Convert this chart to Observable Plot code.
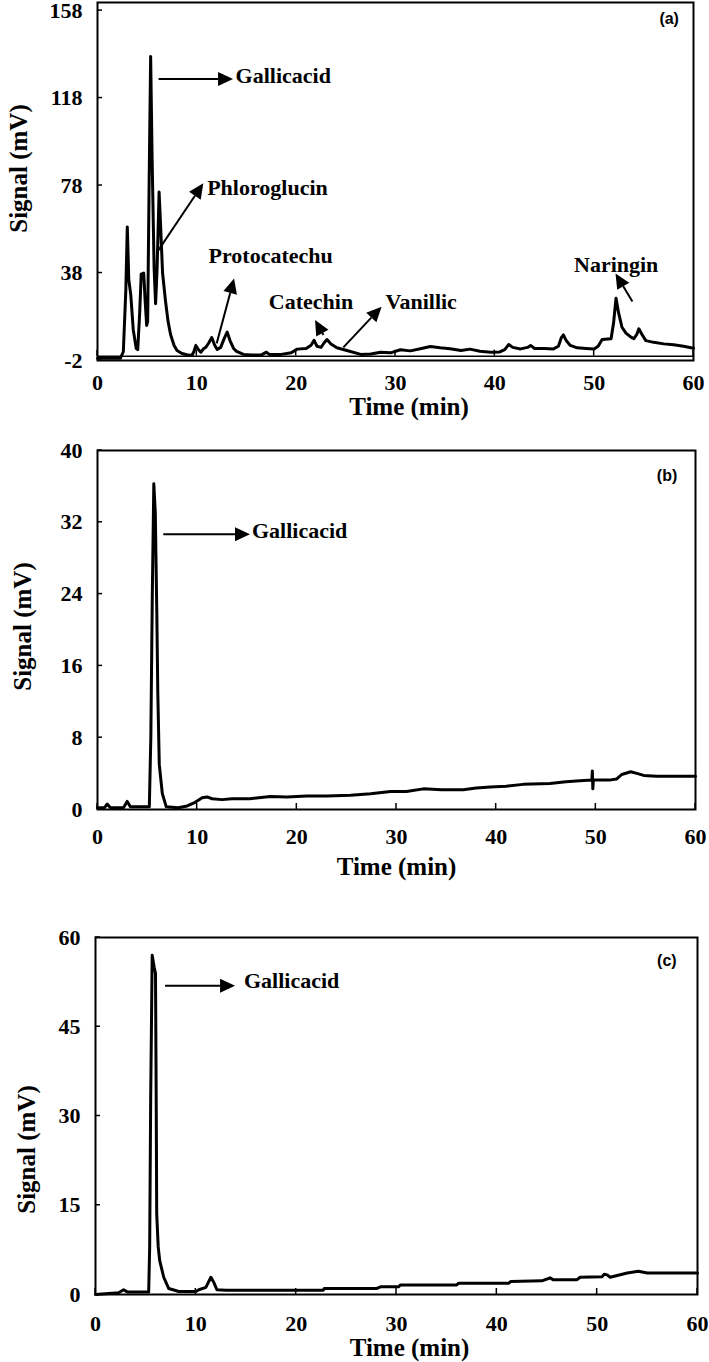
<!DOCTYPE html>
<html><head><meta charset="utf-8">
<script src="https://cdn.jsdelivr.net/npm/d3@7"></script>
<script src="https://cdn.jsdelivr.net/npm/@observablehq/plot@0.6"></script>
<style>
body{margin:0;background:#fff;}
#chart{width:709px;}
#chart svg{display:block;}
#chart svg text{font-family:"Liberation Serif","Times New Roman",serif !important;font-weight:bold !important;fill:#000;}
#chart svg text.tag{font-family:"Liberation Sans",Arial,sans-serif !important;}
</style></head><body><div id="chart"></div>
<script>
// ---------- Panel (a) ----------
const timeA = [0,2.3,2.6,2.85,3.0,3.15,3.35,3.6,3.9,4.05,4.25,4.4,4.65,4.8,4.95,5.05,5.2,5.35,5.5,5.7,5.85,6.0,6.2,6.35,6.55,6.85,7.1,7.35,7.7,8.0,8.5,9.0,9.5,9.7,9.9,10.15,10.4,10.7,10.9,11.2,11.5,11.8,12.05,12.4,12.75,13.05,13.35,13.7,14.0,14.7,15.5,16.5,17.0,17.3,18.5,19.5,20.1,21.0,21.5,21.8,22.1,22.5,22.8,23.1,23.5,24.1,25.1,26.5,27.5,28.5,29.5,30.5,31.5,32.5,33.5,34.5,35.5,36.6,37.5,38.5,39.6,40.5,41.0,41.4,41.8,42.6,43.3,43.6,44.0,45.0,45.9,46.4,46.7,46.9,47.2,47.6,48.3,49.2,50.0,50.4,50.8,51.7,51.95,52.2,52.45,52.8,53.2,53.7,54.0,54.3,54.5,54.8,55.2,56.0,57.0,58.0,59.0,60.0];
const signalA = [-1,-1,2,30,59,35,28,12,3.5,3,20,37.5,38,25,14,16,80,137,90,40,24,40,75,60,38,25,16,10,5,2.6,1.2,0.6,0.3,2,4.9,3,1.8,3.5,4,6,8.5,5,3,4,8,11,7,3.5,2.2,0.8,0.5,0.6,1.8,0.8,0.8,1.5,3.2,3.5,5,7.2,4.5,4,6,7.6,5.5,3.8,2.6,0.8,1.0,1.8,1.5,2.9,2.4,3.4,4.4,3.8,3.4,2.6,3.2,2.2,1.8,1.9,3,5.3,4,3.3,4,4.9,3.5,3.5,3.3,4.5,8.5,9.7,7,4.9,3.8,3.5,3.3,4.5,7.6,7.9,15,26.5,20,13.2,10.5,8.7,8,10,12.5,10,7.1,6.3,5.6,5.2,4.5,3.6];
const yTicksA = [-2,38,78,118,158];
const labelNamesA = ["Gallicacid","Phloroglucin","Protocatechu","Catechin","Vanillic","Naringin"];
const labelTimeA = [13.9,11.04,11.18,17.25,29.0,47.97];
const labelSignalA = [128.3,76.9,46,24.7,24.7,41.7];
// arrows: [fromTime, fromSignal, toTime, toSignal]
const arrowsA = [[6.2,126.5,13.7,126.5],[6.0,47,10.7,78.8],[12.05,5.6,13.8,35.3],[22.8,9.4,21.95,16.3],[24.8,3.8,28.65,22.4],[53.9,24.7,52.2,37.6]];

// ---------- Panel (b) ----------
const timeB = [0,0.7,0.97,1.3,2.6,2.98,3.3,5.2,5.35,5.5,5.65,5.8,5.95,6.05,6.2,6.5,6.9,8.1,9.0,9.8,10.5,11.0,11.5,12.5,13.5,15.3,17.35,19.0,21.0,23.0,25.4,27.4,29.4,31.0,32.7,34.5,36.7,38.0,39.4,41.0,42.7,45.4,47.0,48.4,49.6,49.65,49.7,49.75,51.5,52.1,52.6,53.5,54.2,54.8,56.1,60];
const signalB = [0.2,0.2,0.6,0.2,0.2,0.9,0.3,0.3,8,24,36.3,33,22,13,5,1.8,0.3,0.2,0.4,0.8,1.3,1.4,1.2,1.1,1.2,1.2,1.45,1.4,1.5,1.5,1.6,1.75,2.0,2.0,2.3,2.2,2.2,2.4,2.5,2.6,2.8,2.9,3.1,3.2,3.3,4.3,2.3,3.3,3.3,3.4,3.9,4.2,4.0,3.8,3.7,3.7];
const yTicksB = [0,8,16,24,32,40];
const labelNamesB = ["Gallicacid"];
const labelTimeB = [15.5];
const labelSignalB = [31.0];
const arrowsB = [[6.65,30.6,15.35,30.6]];

// ---------- Panel (c) ----------
const timeC = [0,2.3,2.8,3.2,5.3,5.4,5.5,5.65,5.85,5.98,6.05,6.1,6.25,6.4,6.8,7.3,8.3,10.0,10.3,11.0,11.5,11.8,12.1,13,22.7,22.8,28.0,28.4,30.2,30.4,36.0,36.2,41.2,41.4,44.5,45.0,45.3,45.6,48.0,48.3,50.5,50.7,51.0,51.3,52,53.0,54.1,55.0,60];
const signalC = [0,0.3,0.8,0.4,0.4,8,33,57,55,54,33,13.6,8,5.7,2.9,1.0,0.5,0.5,0.8,1.2,2.9,2.0,0.8,0.7,0.7,1.0,1.0,1.3,1.3,1.6,1.6,1.9,1.9,2.2,2.3,2.6,2.8,2.5,2.5,2.9,3.0,3.4,3.3,2.9,3.2,3.6,3.9,3.6,3.6];
const yTicksC = [0,15,30,45,60];
const labelNamesC = ["Gallicacid"];
const labelTimeC = [14.8];
const labelSignalC = [52.7];
const arrowsC = [[6.98,51.8,13.96,51.8]];

const xTicks = [0,10,20,30,40,50,60];
const panelTags = ["(a)","(b)","(c)"];
const tagTime = [57.6,57.2,57.0];
const tagSignal = [154,37.2,56.1];
const xTitle = "Time (min)";
const yTitle = "Signal (mV)";

function inwardTicks(xt, yt, baseV) {
  return (index, scales, values, dims) => {
    const g = d3.create("svg:g").attr("stroke", "black").attr("stroke-width", 1.5);
    const x = scales.x, y = scales.y;
    for (const t of xt) {
      g.append("line").attr("x1", x(t)).attr("x2", x(t)).attr("y1", y(baseV)).attr("y2", y(baseV) - 6);
    }
    for (const v of yt) {
      g.append("line").attr("x1", dims.marginLeft).attr("x2", dims.marginLeft + 5).attr("y1", y(v)).attr("y2", y(v));
    }
    return g.node();
  };
}

function filledArrows(list) {
  return (index, scales) => {
    const g = d3.create("svg:g");
    const x = scales.x, y = scales.y;
    for (const [t1, v1, t2, v2] of list) {
      const X1 = x(t1), Y1 = y(v1), X2 = x(t2), Y2 = y(v2);
      const a = Math.atan2(Y2 - Y1, X2 - X1);
      const L = 15, W = 7;
      const bx = X2 - L * Math.cos(a), by = Y2 - L * Math.sin(a);
      g.append("line").attr("x1", X1).attr("y1", Y1).attr("x2", bx).attr("y2", by)
        .attr("stroke", "black").attr("stroke-width", 2);
      const px = -Math.sin(a) * W, py = Math.cos(a) * W;
      g.append("path").attr("d", `M${X2},${Y2}L${bx + px},${by + py}L${bx - px},${by - py}Z`).attr("fill", "black");
    }
    return g.node();
  };
}

function tagMark(tag, t, v) {
  return (index, scales) => {
    const txt = d3.create("svg:text")
      .attr("class", "tag")
      .attr("x", scales.x(t)).attr("y", scales.y(v))
      .attr("text-anchor", "middle").attr("dy", "0.35em")
      .attr("font-size", 16).text(tag);
    return txt.node();
  };
}

function panel(cfg) {
  const data = cfg.time.map((t, i) => ({t, v: cfg.signal[i]}));
  return Plot.plot({
    width: 709,
    height: cfg.height,
    marginTop: cfg.mt, marginBottom: cfg.mb, marginLeft: cfg.ml, marginRight: cfg.mr,
    style: {fontSize: "22px", color: "black", background: "white", overflow: "visible"},
    x: {domain: [0, 60]},
    y: {domain: cfg.yDomain},
    marks: [
      Plot.frame({stroke: "black", strokeWidth: 2}),
      cfg.zeroLine ? Plot.ruleY([0], {stroke: "black", strokeWidth: 1.5}) : null,
      Plot.axisX({ticks: xTicks, tickSize: 0, tickPadding: cfg.xPad, tickFormat: d => String(d), label: null, fontSize: 22}),
      Plot.axisY({ticks: cfg.yTicks, tickSize: 0, tickPadding: 15, tickFormat: d => String(d), label: null, fontSize: 22}),
      inwardTicks(xTicks, cfg.yTicks, cfg.zeroLine ? 0 : cfg.yDomain[0]),
      Plot.line(data, {x: "t", y: "v", stroke: "black", strokeWidth: 3, strokeLinejoin: "round"}),
      filledArrows(cfg.arrows),
      Plot.text(cfg.labels, {x: (d, i) => cfg.labelT[i], y: (d, i) => cfg.labelV[i], text: d => d, textAnchor: "start", lineAnchor: "middle", fontSize: 22}),
      tagMark(cfg.tag, cfg.tagT, cfg.tagV),
      Plot.text([yTitle], {frameAnchor: "left", rotate: -90, textAnchor: "middle", lineAnchor: "middle", dx: cfg.ytDx, dy: cfg.ytDy, text: d => d, fontSize: 25}),
      Plot.text([xTitle], {frameAnchor: "bottom", textAnchor: "middle", lineAnchor: "middle", dx: cfg.xtDx, dy: cfg.xtDy, text: d => d, fontSize: 25})
    ]
  });
}

const chart = document.getElementById("chart");
chart.append(panel({
  time: timeA, signal: signalA, height: 420, mt: 2, mb: 60, ml: 97, mr: 16,
  yDomain: [-2, 161.7], yTicks: yTicksA, zeroLine: true, xPad: 14,
  arrows: arrowsA, labels: labelNamesA, labelT: labelTimeA, labelV: labelSignalA,
  tag: panelTags[0], tagT: tagTime[0], tagV: tagSignal[0],
  ytDx: -78.5, ytDy: -13, xtDx: 13.5, xtDy: 46
}));
chart.append(panel({
  time: timeB, signal: signalB, height: 460, mt: 30, mb: 71, ml: 97, mr: 14,
  yDomain: [0, 40], yTicks: yTicksB, zeroLine: false, xPad: 19,
  arrows: arrowsB, labels: labelNamesB, labelT: labelTimeB, labelV: labelSignalB,
  tag: panelTags[1], tagT: tagTime[1], tagV: tagSignal[1],
  ytDx: -74.5, ytDy: -3.5, xtDx: 0, xtDy: 57
}));
chart.append(panel({
  time: timeC, signal: signalC, height: 482, mt: 57, mb: 68, ml: 95, mr: 12,
  yDomain: [0, 60], yTicks: yTicksC, zeroLine: false, xPad: 21,
  arrows: arrowsC, labels: labelNamesC, labelT: labelTimeC, labelV: labelSignalC,
  tag: panelTags[2], tagT: tagTime[2], tagV: tagSignal[2],
  ytDx: -69, ytDy: 33.5, xtDx: 13, xtDy: 53
}));
</script></body></html>
